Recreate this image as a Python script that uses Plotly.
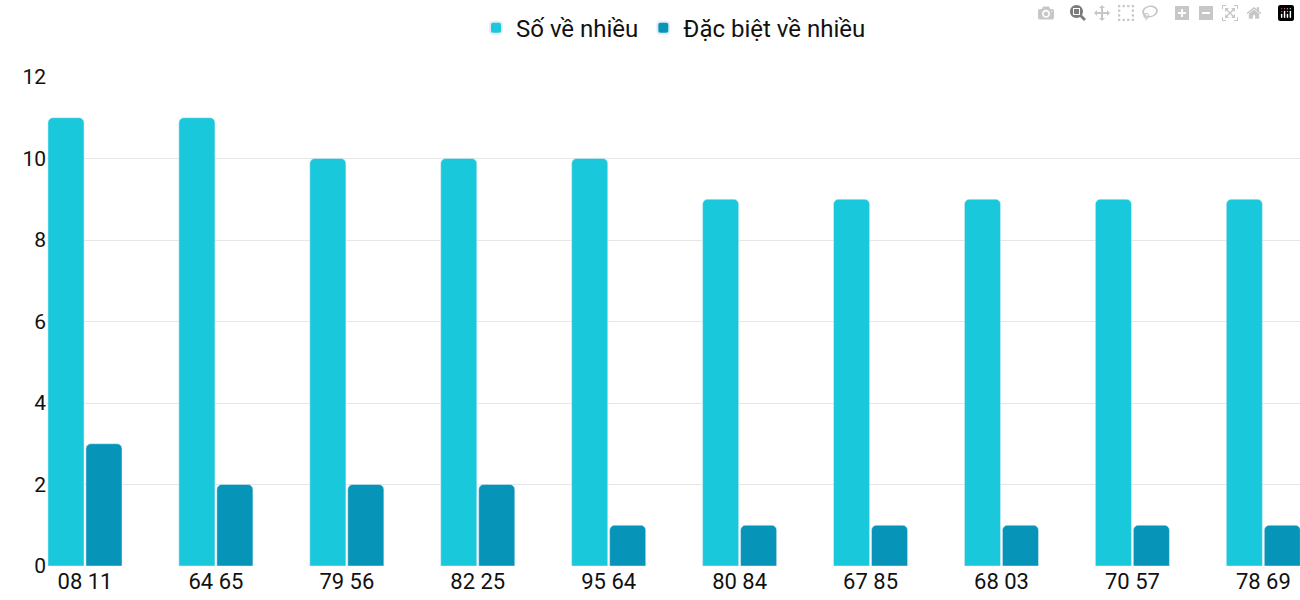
import plotly.graph_objects as go

categories = ["08 11", "64 65", "79 56", "82 25", "95 64", "80 84", "67 85", "68 03", "70 57", "78 69"]
so_ve_nhieu = [11, 11, 10, 10, 10, 9, 9, 9, 9, 9]
dac_biet = [3, 2, 2, 2, 1, 1, 1, 1, 1, 1]

fig = go.Figure()
fig.add_bar(x=categories, y=so_ve_nhieu, name="Số về nhiều",
            marker=dict(color="#1AC8DB", cornerradius=5))
fig.add_bar(x=categories, y=dac_biet, name="Đặc biệt về nhiều",
            marker=dict(color="#0695B8", cornerradius=5))

fig.update_layout(
    width=1300, height=600, barmode="group", bargap=0.42, bargroupgap=0.05,
    plot_bgcolor="white", paper_bgcolor="white",
    font=dict(family="Roboto", size=21, color="#111"),
    margin=dict(l=47, r=0, t=77, b=34),
    legend=dict(orientation="h", x=0.5, xanchor="center", y=1.1, yanchor="middle",
                font=dict(size=24), itemsizing="constant"),
    xaxis=dict(range=[-0.29, 9.28], showgrid=False, ticks="", tickfont=dict(size=22)),
    yaxis=dict(range=[0, 12], dtick=2, gridcolor="#e6e6e6", zeroline=False,
               ticks="", tickfont=dict(size=21)),
    showlegend=True,
)
fig.write_html("out.html", post_script="document.body.style.margin='0';document.body.style.overflow='hidden';")
